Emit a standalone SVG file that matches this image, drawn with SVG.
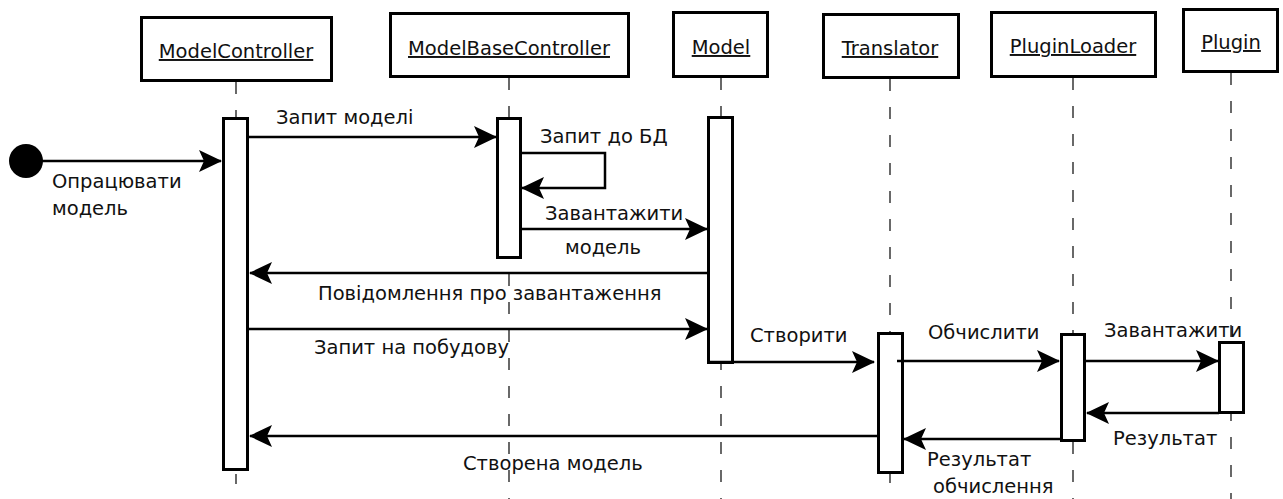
<svg xmlns="http://www.w3.org/2000/svg" width="1283" height="499" viewBox="0 0 1283 499">
  <style>
    text { font-family: "DejaVu Sans", "Noto Sans", sans-serif; font-size: 19.5px; fill: #111; }
    .head { fill: #fff; stroke: #000; stroke-width: 3; }
    .title { text-anchor: middle; text-decoration: underline; }
    .life { stroke: #444; stroke-width: 1.6; stroke-dasharray: 12 16; fill: none; }
    .act { fill: #fff; stroke: #000; stroke-width: 3; }
    .msg { stroke: #000; stroke-width: 2.5; fill: none; marker-end: url(#arrow); }
  </style>
  <defs>
    <marker id="arrow" viewBox="0 0 23 23" refX="22" refY="11.5" markerWidth="23" markerHeight="23" markerUnits="userSpaceOnUse" orient="auto">
      <path d="M0,0.5 L23,11.5 L0,22.5 L5,11.5 Z" fill="#000"/>
    </marker>
  </defs>
  <rect width="1283" height="499" fill="#fff"/>

  <!-- lifelines -->
  <g id="lifelines">
    <line class="life" x1="236" y1="82" x2="236" y2="484"/>
    <line class="life" x1="509" y1="78" x2="509" y2="499"/>
    <line class="life" x1="721" y1="78" x2="721" y2="499"/>
    <line class="life" x1="890" y1="79" x2="890" y2="499"/>
    <line class="life" x1="1073" y1="78" x2="1073" y2="499"/>
    <line class="life" x1="1231" y1="73" x2="1231" y2="499"/>
  </g>

  <!-- participant heads -->
  <g id="ModelController">
    <rect class="head" x="141.5" y="17.5" width="190" height="63"/>
    <text class="title" x="236" y="58">ModelController</text>
  </g>
  <g id="ModelBaseController">
    <rect class="head" x="390.5" y="13.5" width="238" height="63"/>
    <text class="title" x="509" y="55">ModelBaseController</text>
  </g>
  <g id="Model">
    <rect class="head" x="673.5" y="12.5" width="94" height="64"/>
    <text class="title" x="721" y="54">Model</text>
  </g>
  <g id="Translator">
    <rect class="head" x="823.5" y="14.5" width="135" height="63"/>
    <text class="title" x="890" y="55">Translator</text>
  </g>
  <g id="PluginLoader">
    <rect class="head" x="991.5" y="12.5" width="164" height="64"/>
    <text class="title" x="1073" y="53">PluginLoader</text>
  </g>
  <g id="Plugin">
    <rect class="head" x="1183.5" y="9.5" width="94" height="62"/>
    <text class="title" x="1231" y="49">Plugin</text>
  </g>

  <!-- activation bars -->
  <g id="activations">
    <rect class="act" x="223.5" y="118.5" width="24" height="351"/>
    <rect class="act" x="497.5" y="118.5" width="23" height="139"/>
    <rect class="act" x="708.5" y="117.5" width="24" height="245"/>
    <rect class="act" x="878.5" y="333.5" width="24" height="139"/>
    <rect class="act" x="1061.5" y="334.5" width="23" height="106"/>
    <rect class="act" x="1219.5" y="342.5" width="24" height="70"/>
  </g>

  <!-- start point -->
  <g id="start">
    <circle cx="26" cy="161" r="17" fill="#000"/>
  </g>

  <!-- messages -->
  <g id="connectors">
    <line class="msg" x1="40" y1="161" x2="221" y2="161"/>
    <line class="msg" x1="248" y1="137" x2="496" y2="137"/>
    <polyline class="msg" points="521,153 605,153 605,188 522,188"/>
    <line class="msg" x1="519" y1="229" x2="707" y2="229"/>
    <line class="msg" x1="708" y1="273" x2="250" y2="273"/>
    <line class="msg" x1="248" y1="329" x2="707" y2="329"/>
    <line class="msg" x1="708" y1="362" x2="874" y2="362"/>
    <line class="msg" x1="897" y1="361" x2="1059" y2="361"/>
    <line class="msg" x1="1085" y1="361" x2="1218" y2="361"/>
    <line class="msg" x1="1219" y1="413" x2="1087" y2="413"/>
    <line class="msg" x1="1061" y1="439" x2="904" y2="439"/>
    <line class="msg" x1="878" y1="436" x2="250" y2="436"/>
  </g>

  <!-- message labels -->
  <g id="labels">
    <text x="52" y="188">Опрацювати</text>
    <text x="52" y="215">модель</text>
    <text x="276" y="124">Запит моделі</text>
    <text x="540" y="143">Запит до БД</text>
    <text x="545" y="220">Завантажити</text>
    <text x="565" y="254">модель</text>
    <text x="318" y="300">Повідомлення про завантаження</text>
    <text x="314" y="354">Запит на побудову</text>
    <text x="750" y="342">Створити</text>
    <text x="928" y="339">Обчислити</text>
    <text x="1104" y="337">Завантажити</text>
    <text x="1113" y="445">Результат</text>
    <text x="927" y="466">Результат</text>
    <text x="933" y="493">обчислення</text>
    <text x="463" y="470">Створена модель</text>
  </g>
</svg>
